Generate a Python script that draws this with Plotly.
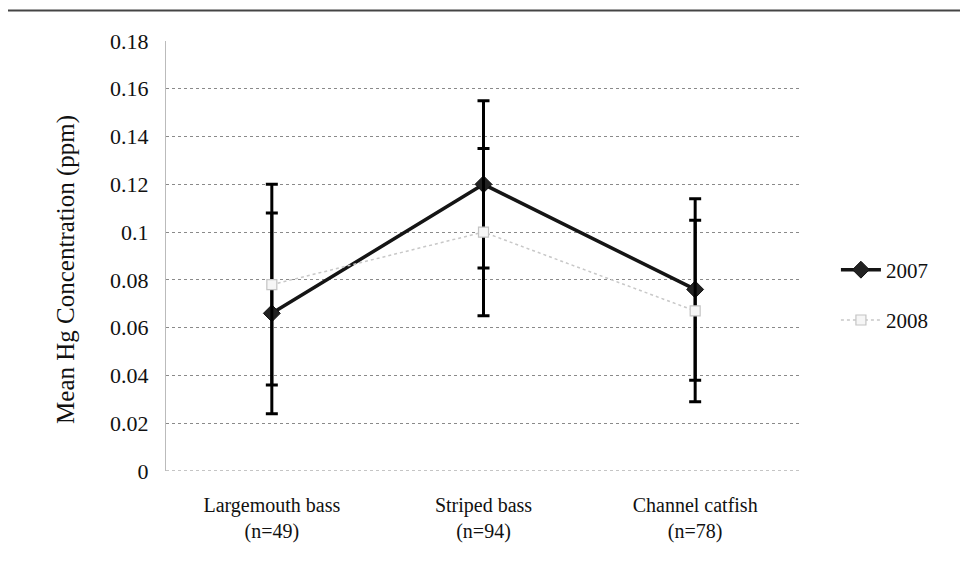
import plotly.graph_objects as go

categories = ["Largemouth bass<br>(n=49)", "Striped bass<br>(n=94)", "Channel catfish<br>(n=78)"]
mean_2007 = [0.066, 0.120, 0.076]
err_2007 = [0.042, 0.035, 0.038]
mean_2008 = [0.078, 0.100, 0.067]
err_2008 = [0.042, 0.035, 0.038]
y_ticks = [0, 0.02, 0.04, 0.06, 0.08, 0.1, 0.12, 0.14, 0.16, 0.18]
y_tick_text = ["0", "0.02", "0.04", "0.06", "0.08", "0.1", "0.12", "0.14", "0.16", "0.18"]
y_title = "Mean Hg Concentration (ppm)"

FONT = "Liberation Serif"

fig = go.Figure()
fig.add_trace(go.Scatter(
    x=categories, y=mean_2007, name="2007", mode="lines+markers",
    legendgroup="a",
    line=dict(color="#151515", width=3.5),
    marker=dict(symbol="diamond", size=13, color="#222222", line=dict(color="#111111", width=1)),
    error_y=dict(type="data", array=err_2007, visible=True, color="#000000", thickness=3, width=6),
))
fig.add_trace(go.Scatter(
    x=categories, y=mean_2008, name="2008", mode="lines+markers",
    legendgroup="b",
    line=dict(color="#c8c8c8", width=1.5, dash="dot"),
    marker=dict(symbol="square", size=10, color="#f6f6f6", line=dict(color="#c4c4c4", width=1.2)),
    error_y=dict(type="data", array=err_2008, visible=True, color="#000000", thickness=3, width=6),
))

fig.update_layout(
    width=968, height=574,
    margin=dict(l=158, r=175, t=33, b=111),
    paper_bgcolor="white", plot_bgcolor="white",
    font=dict(family=FONT, size=17, color="#111111"),
    showlegend=True,
    legend=dict(x=1.055, y=0.515, xanchor="left", yanchor="top",
                font=dict(family=FONT, size=21, color="#111111"),
                traceorder="grouped", tracegroupgap=20, itemwidth=40,
                bgcolor="rgba(0,0,0,0)"),
    xaxis=dict(showgrid=False, showline=False, zeroline=False,
               ticks="outside", ticklen=16, tickcolor="rgba(0,0,0,0)",
               tickfont=dict(family=FONT, size=20, color="#111111"),
               range=[-0.5, 2.5]),
    yaxis=dict(range=[0, 0.18], tickvals=y_ticks, ticktext=y_tick_text,
               showgrid=True, gridcolor="#8a8a8a", griddash="dot", gridwidth=1,
               zeroline=False, showline=True, linecolor="#bbbbbb", linewidth=1,
               ticks="outside", ticklen=12, tickcolor="rgba(0,0,0,0)",
               tickfont=dict(family=FONT, size=22, color="#111111")),
)

# y-axis title placed as rotated annotation
fig.add_annotation(text=y_title, xref="paper", yref="paper", x=-0.1575, y=0.47,
                   xanchor="center", yanchor="middle", textangle=-90, showarrow=False,
                   font=dict(family=FONT, size=25, color="#111111"))

# zero line drawn as dotted gridline too
fig.add_shape(type="line", xref="paper", yref="y", x0=0, x1=1, y0=0, y1=0,
              line=dict(color="#8a8a8a", width=1, dash="dot"))
# scan border at the top
fig.add_shape(type="line", xref="paper", yref="paper", x0=-0.25, x1=1.28, y0=1.071, y1=1.071,
              line=dict(color="#444444", width=2))

fig.write_html("out.html")
